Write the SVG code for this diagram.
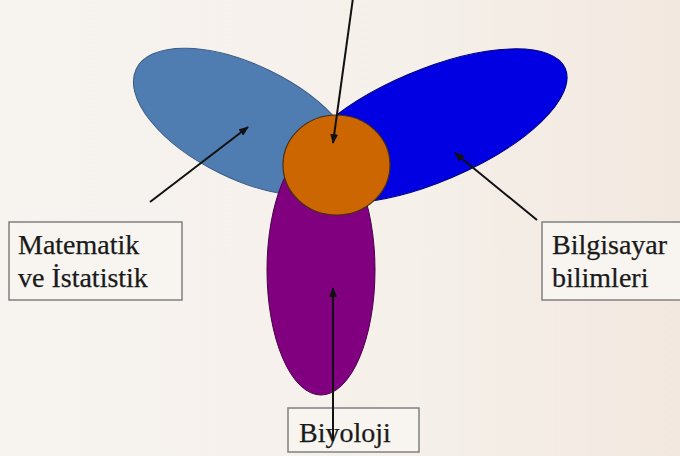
<svg xmlns="http://www.w3.org/2000/svg" width="680" height="456" viewBox="0 0 680 456">
<defs>
<linearGradient id="bg" x1="0" y1="0" x2="1" y2="0">
<stop offset="0" stop-color="#F7F3EF"/>
<stop offset="0.6" stop-color="#F5F0EA"/>
<stop offset="1" stop-color="#F2E8E0"/>
</linearGradient>
<marker id="ah" viewBox="0 0 10 8" refX="9" refY="4" markerWidth="10" markerHeight="8" markerUnits="userSpaceOnUse" orient="auto">
<path d="M0,0 L10,4 L0,8 Z" fill="#111"/>
</marker>
<style>
.lbl{font-family:"Liberation Serif","Times New Roman",serif;font-size:28px;fill:#1a1a1a;stroke:#1a1a1a;stroke-width:0.25;}
.box{fill:#F8F5F1;stroke:#808080;stroke-width:1.5;}
.arr{stroke:#111;stroke-width:2;fill:none;marker-end:url(#ah);}
</style>
</defs>
<rect width="680" height="456" fill="url(#bg)"/>
<g id="stat-ellipse"><ellipse cx="245" cy="122" rx="121" ry="57" transform="rotate(26 245 122)" fill="#4F7DB2" stroke="#3A5B84" stroke-width="1"/></g>
<g id="cs-ellipse"><ellipse cx="430" cy="126" rx="147" ry="56" transform="rotate(-23 430 126)" fill="#0000E2" stroke="#00007A" stroke-width="1"/></g>
<g id="bio-ellipse"><ellipse cx="321" cy="270" rx="54" ry="125" fill="#800080" stroke="#4A004A" stroke-width="1"/></g>
<g id="center-circle"><ellipse cx="336.5" cy="165" rx="53.5" ry="50" fill="#CC6600" stroke="#4A3010" stroke-width="1.2"/></g>
<g id="box-stat"><rect class="box" x="9" y="222" width="173" height="78"/><text class="lbl" x="18" y="254">Matematik</text><text class="lbl" x="18" y="287">ve İstatistik</text></g>
<g id="box-cs"><rect class="box" x="542" y="222" width="150" height="78"/><text class="lbl" x="552" y="254">Bilgisayar</text><text class="lbl" x="552" y="287">bilimleri</text></g>
<g id="box-bio"><rect class="box" x="288" y="408" width="131" height="44"/><text class="lbl" x="299" y="442">Biyoloji</text></g>
<g id="connectors">
<line class="arr" x1="353" y1="-2" x2="333" y2="143"/>
<line class="arr" x1="150" y1="202" x2="248" y2="127"/>
<line class="arr" x1="537" y1="220" x2="455" y2="153"/>
<line class="arr" x1="333" y1="441" x2="333" y2="288"/>
</g>
</svg>
